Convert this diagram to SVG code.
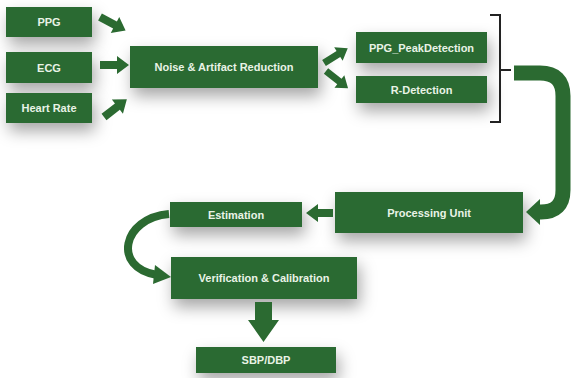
<svg xmlns="http://www.w3.org/2000/svg" width="576" height="378" viewBox="0 0 576 378">
<defs>
<filter id="sh" x="-30%" y="-60%" width="160%" height="280%">
<feDropShadow dx="3" dy="8" stdDeviation="8" flood-color="#000" flood-opacity="0.35"/>
</filter>
</defs>
<style>
.box{fill:#2b6a31;filter:url(#sh)}
.t{font-family:"Liberation Sans",Arial,sans-serif;font-weight:bold;font-size:11px;fill:#e9f3e6;text-anchor:middle;dominant-baseline:central}
.ar{fill:#2b6a31}
.ln{fill:none;stroke:#2b6a31}
</style>
<rect width="576" height="378" fill="#fff"/>
<g id="ppg"><rect class="box" x="6" y="7" width="86" height="30"/><text class="t" x="49" y="22">PPG</text></g>
<g id="ecg"><rect class="box" x="6" y="52" width="86" height="31"/><text class="t" x="49" y="67.5">ECG</text></g>
<g id="hr"><rect class="box" x="6" y="93" width="86" height="30"/><text class="t" x="49" y="108">Heart Rate</text></g>
<g id="noise"><rect class="box" x="130" y="46" width="188" height="42"/><text class="t" x="224" y="67">Noise &amp; Artifact Reduction</text></g>
<g id="peak"><rect class="box" x="356" y="32" width="131" height="31"/><text class="t" x="421.5" y="47.5">PPG_PeakDetection</text></g>
<g id="rdet"><rect class="box" x="356" y="76" width="131" height="27"/><text class="t" x="421.5" y="89.5">R-Detection</text></g>
<g id="proc"><rect class="box" x="335" y="192" width="188" height="41"/><text class="t" x="429" y="212.5">Processing Unit</text></g>
<g id="est"><rect class="box" x="170" y="202" width="132" height="25"/><text class="t" x="236" y="214.5">Estimation</text></g>
<g id="ver"><rect class="box" x="171" y="257" width="186" height="42"/><text class="t" x="264" y="278">Verification &amp; Calibration</text></g>
<g id="sbp"><rect class="box" x="196" y="347" width="140" height="26"/><text class="t" x="266" y="360">SBP/DBP</text></g>
<g id="connectors">
<g transform="translate(100,17) rotate(28)"><polygon class="ar" points="0,-4 17,-4 17,-9 29,0 17,9 17,4 0,4"/></g>
<polygon class="ar" points="100,61 117,61 117,56 129,65 117,74 117,69 100,69"/>
<g transform="translate(104,117) rotate(-38)"><polygon class="ar" points="0,-4 17,-4 17,-9 29,0 17,9 17,4 0,4"/></g>
<g transform="translate(324,63) rotate(-32)"><polygon class="ar" points="0,-3.5 17,-3.5 17,-8 28,0 17,8 17,3.5 0,3.5"/></g>
<g transform="translate(326,71) rotate(38)"><polygon class="ar" points="0,-3.5 17,-3.5 17,-8 28,0 17,8 17,3.5 0,3.5"/></g>
<path d="M490 15 H500 V122 H490 M500 70 H511" fill="none" stroke="#222" stroke-width="2"/>
<path class="ln" stroke-width="15" d="M514 73 H540 Q563 73 563 96 V190 Q563 212 541 212 H538"/>
<polygon class="ar" points="540,199 540,225 526,212"/>
<polygon class="ar" points="333,209 318,209 318,204 306,213 318,222 318,217 333,217"/>
<path class="ln" stroke-width="8" d="M169 214 C122 218 112 268 157 275"/>
<polygon class="ar" points="155,265 171,277 153,284"/>
<polygon class="ar" points="255,302 272,302 272,320 279,320 263.5,342 248,320 255,320"/>
</g>
</svg>
